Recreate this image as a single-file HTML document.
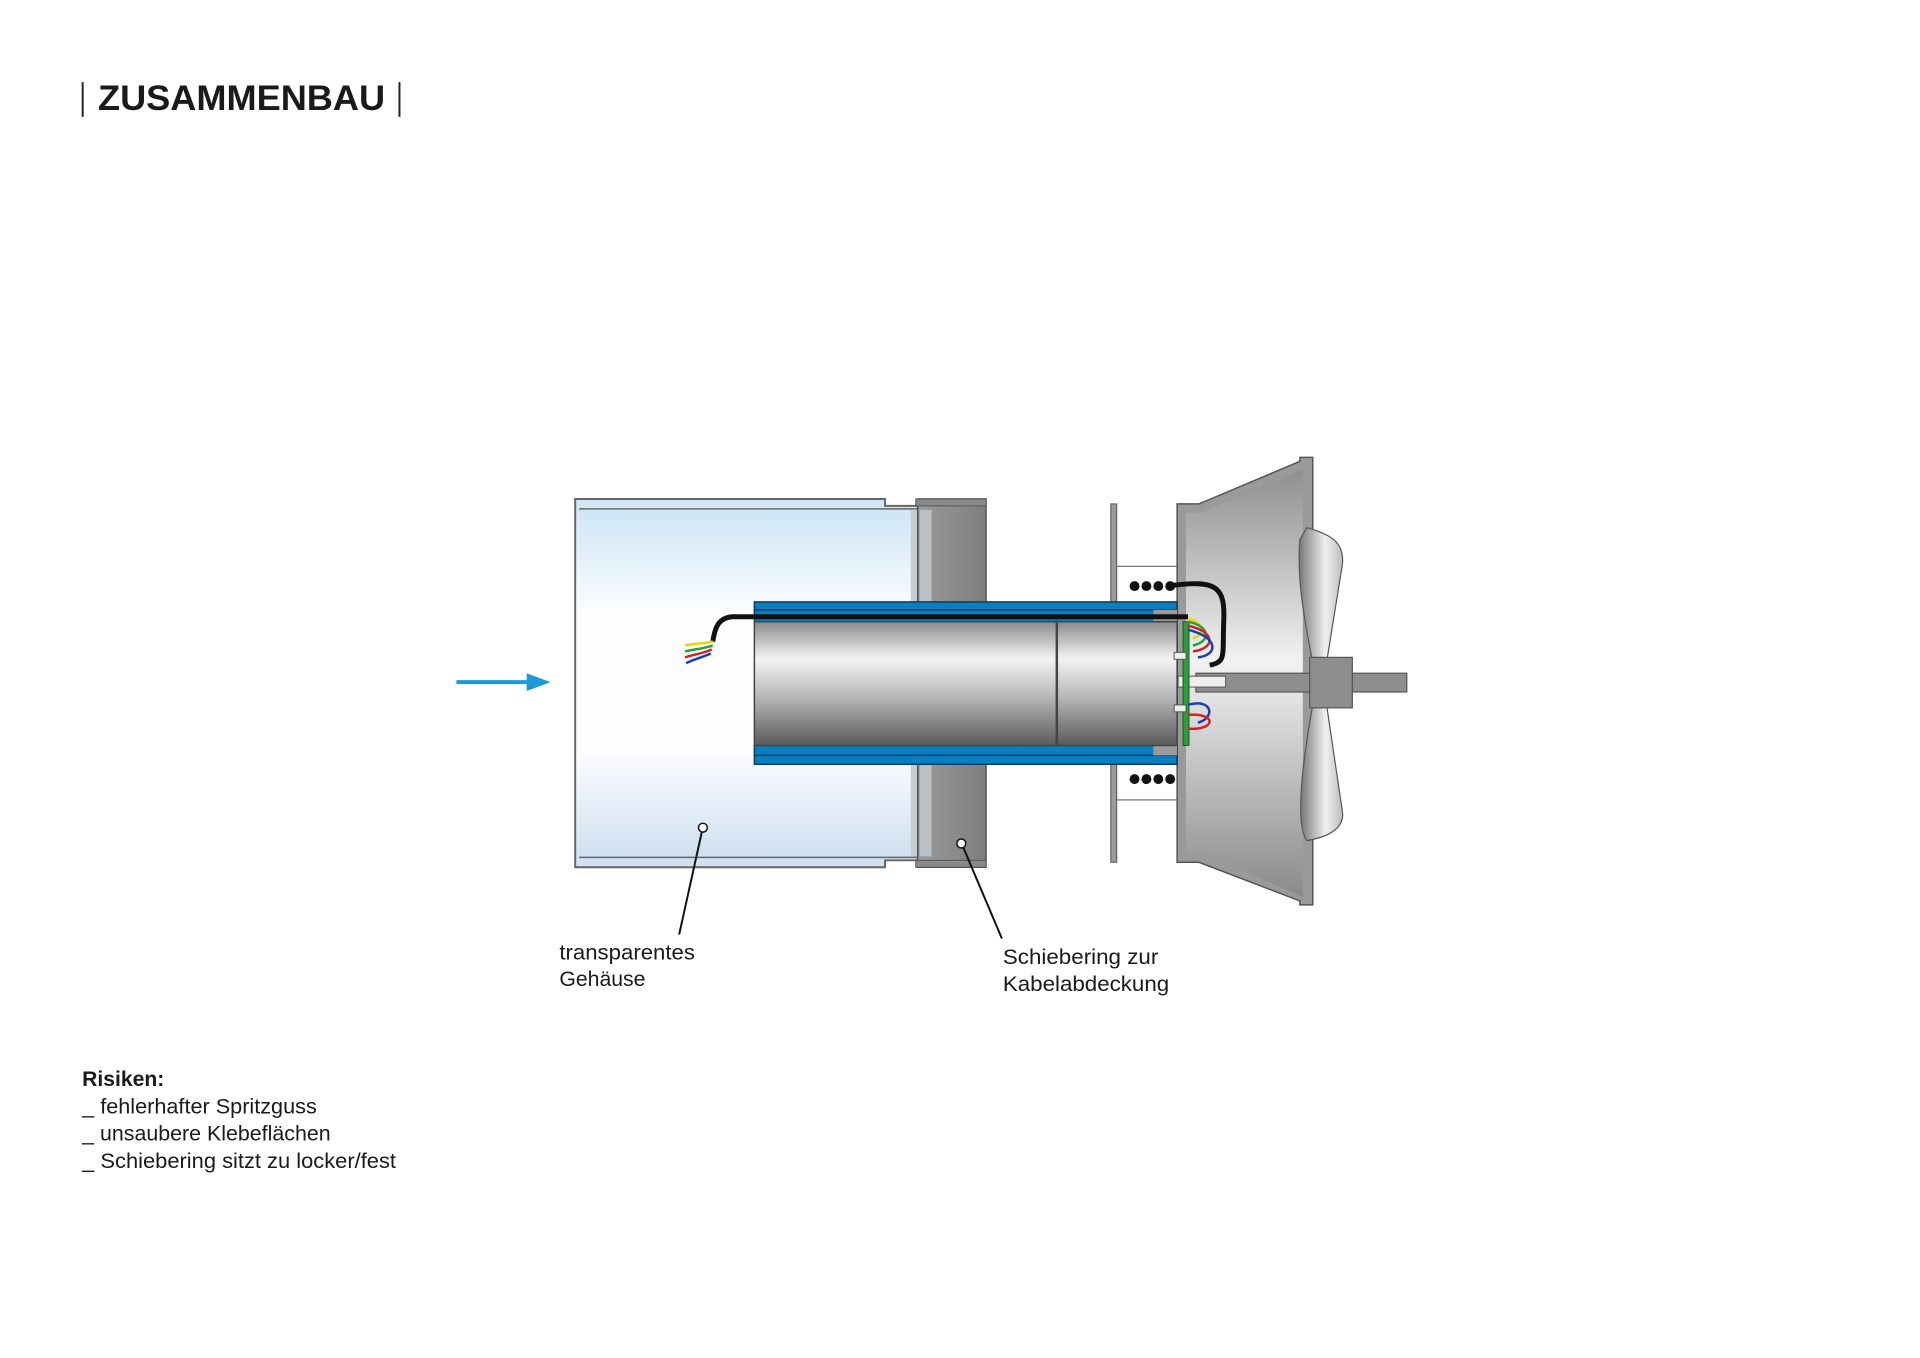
<!DOCTYPE html>
<html><head><meta charset="utf-8"><style>
html,body{margin:0;padding:0;background:#fff}
svg{display:block}
text{font-family:"Liberation Sans",sans-serif;fill:#1a1a1a}
</style></head><body>
<svg width="1920" height="1358" viewBox="0 0 1920 1358" xmlns="http://www.w3.org/2000/svg">
<defs>
<linearGradient id="blue" x1="0" y1="0" x2="0" y2="1">
<stop offset="0" stop-color="#cfe6f6"/><stop offset="0.3" stop-color="#fbfdff"/><stop offset="0.7" stop-color="#fbfdff"/><stop offset="1" stop-color="#cfe0f0"/></linearGradient>
<linearGradient id="metal" x1="0" y1="0" x2="0" y2="1">
<stop offset="0" stop-color="#8a8a8a"/><stop offset="0.3" stop-color="#f4f4f4"/><stop offset="0.6" stop-color="#b8b8b8"/><stop offset="1" stop-color="#5a5a5a"/></linearGradient>
<linearGradient id="ring" x1="0" y1="0" x2="1" y2="0">
<stop offset="0" stop-color="#9a9a9a"/><stop offset="1" stop-color="#7e7e7e"/></linearGradient>
<linearGradient id="fan" x1="0" y1="0" x2="0" y2="1">
<stop offset="0" stop-color="#8f8f8f"/><stop offset="0.45" stop-color="#f2f2f2"/><stop offset="1" stop-color="#8a8a8a"/></linearGradient>
<linearGradient id="blade" x1="0" y1="0" x2="1" y2="0">
<stop offset="0" stop-color="#777"/><stop offset="0.6" stop-color="#f0f0f0"/><stop offset="1" stop-color="#bbb"/></linearGradient>
</defs>
<g transform="scale(0.99)">
<!-- title -->
<line x1="83.5" y1="83" x2="83.5" y2="118" stroke="#222" stroke-width="2"/>
<text x="99" y="111" font-size="36" font-weight="bold" textLength="290" lengthAdjust="spacingAndGlyphs">ZUSAMMENBAU</text>
<line x1="403.5" y1="83" x2="403.5" y2="118" stroke="#222" stroke-width="2"/>

<!-- arrow -->
<line x1="461" y1="689" x2="540" y2="689" stroke="#1a9ad6" stroke-width="4"/>
<polygon points="532,680 556,689 532,698" fill="#1a9ad6"/>

<!-- transparent housing -->
<path d="M581,504 H894 V511 H927 V869 H894 V876 H581 Z" fill="url(#blue)" stroke="#666" stroke-width="2"/>
<rect x="585" y="515" width="342" height="350" fill="url(#blue)" stroke="none"/>
<line x1="585" y1="514" x2="927" y2="514" stroke="#666" stroke-width="1.5"/>
<line x1="585" y1="866" x2="927" y2="866" stroke="#666" stroke-width="1.5"/>
<rect x="920" y="515" width="9" height="350" fill="#c4ccd4"/>

<!-- ring -->
<rect x="927" y="504" width="69" height="372" fill="url(#ring)" stroke="#555" stroke-width="1.5"/>
<rect x="929" y="515" width="12" height="350" fill="#b9c0c6"/>
<rect x="925" y="504" width="71" height="7" fill="#8a8a8a" stroke="#555" stroke-width="1"/>
<rect x="925" y="869" width="71" height="7" fill="#8a8a8a" stroke="#555" stroke-width="1"/>

<!-- wall plate -->
<rect x="1122" y="509" width="6" height="362" fill="#9a9a9a" stroke="#555" stroke-width="1"/>
<rect x="1128" y="572" width="62" height="40" fill="#fff" stroke="#555" stroke-width="1"/>
<rect x="1128" y="768" width="62" height="40" fill="#fff" stroke="#555" stroke-width="1"/>
<g fill="#111">
<circle cx="1146" cy="592" r="5"/><circle cx="1158" cy="592" r="5"/><circle cx="1170" cy="592" r="5"/><circle cx="1182" cy="592" r="5"/>
<circle cx="1146" cy="787" r="5"/><circle cx="1158" cy="787" r="5"/><circle cx="1170" cy="787" r="5"/><circle cx="1182" cy="787" r="5"/>
</g>

<!-- fan housing -->
<path d="M1189,509 H1211 L1313,466 V462 H1326 V914 H1313 V910 L1211,871 H1189 Z" fill="#9a9a9a" stroke="#555" stroke-width="1.5"/>
<path d="M1198,518 H1214 L1316,474 V906 L1214,862 H1198 Z" fill="url(#fan)"/>

<!-- blades -->
<path d="M1320,533 C1345,540 1358,548 1356,570 L1340,669 H1326 C1316,620 1310,580 1313,545 Z" fill="url(#blade)" stroke="#555" stroke-width="1.2"/>
<path d="M1326,712 H1340 L1356,820 C1358,835 1345,845 1320,849 C1310,835 1312,790 1326,712 Z" fill="url(#blade)" stroke="#555" stroke-width="1.2"/>

<!-- shaft & hub -->
<rect x="1208" y="680" width="213" height="19" fill="#8e8e8e" stroke="#555" stroke-width="1.2"/>
<rect x="1323" y="664" width="43" height="51" fill="#8e8e8e" stroke="#555" stroke-width="1.2"/>
<rect x="1190" y="683" width="48" height="11" fill="#eee" stroke="#555" stroke-width="1"/>

<!-- motor tube -->
<rect x="762" y="608" width="427" height="20" fill="#0a7fc0" stroke="#0a3c66" stroke-width="1.5"/>
<rect x="762" y="753" width="427" height="19" fill="#0a7fc0" stroke="#0a3c66" stroke-width="1.5"/>
<line x1="762" y1="616" x2="1189" y2="616" stroke="#0a3c66" stroke-width="1.5"/>
<line x1="762" y1="763" x2="1189" y2="763" stroke="#0a3c66" stroke-width="1.5"/>
<rect x="1165" y="616" width="24" height="12" fill="#9a9a9a"/>
<rect x="1165" y="753" width="24" height="10" fill="#9a9a9a"/>
<rect x="762" y="628" width="305" height="125" fill="url(#metal)" stroke="#444" stroke-width="1.5"/>
<rect x="1068" y="628" width="121" height="125" fill="url(#metal)" stroke="#444" stroke-width="1.5"/>
<rect x="1195" y="628" width="6" height="125" fill="#2aa03a" stroke="#1a5a22" stroke-width="1"/>
<rect x="1186" y="659" width="12" height="7" fill="#eee" stroke="#555" stroke-width="1"/>
<rect x="1186" y="712" width="12" height="7" fill="#eee" stroke="#555" stroke-width="1"/>

<!-- cable -->
<path d="M720,648 C722,635 725,624 740,623 H1200" fill="none" stroke="#111" stroke-width="5"/>
<path d="M1179,592 C1230,585 1238,592 1236,630 C1235,665 1238,668 1222,672" fill="none" stroke="#111" stroke-width="5"/>
<g fill="none" stroke-width="2.5">
<path d="M720,648 C712,650 700,650 692,652" stroke="#e6d800"/>
<path d="M720,652 C712,655 700,656 692,658" stroke="#2aa03a"/>
<path d="M719,656 C711,660 700,661 692,664" stroke="#d42020"/>
<path d="M718,660 C710,664 700,666 693,670" stroke="#1a3fb0"/>
<path d="M1200,625 C1215,628 1218,640 1205,645" stroke="#e6d800"/>
<path d="M1200,628 C1222,632 1224,648 1205,652" stroke="#2aa03a"/>
<path d="M1200,632 C1228,638 1228,655 1205,658" stroke="#d42020"/>
<path d="M1200,636 C1232,644 1230,662 1210,664" stroke="#1a3fb0"/>
<path d="M1200,712 C1225,705 1228,725 1210,730" stroke="#1a3fb0"/>
<path d="M1200,722 C1230,720 1228,738 1200,736" stroke="#d42020"/>
</g>

<!-- leaders -->
<line x1="709" y1="840" x2="686" y2="944" stroke="#111" stroke-width="2"/>
<circle cx="710" cy="836" r="4.5" fill="#fff" stroke="#111" stroke-width="1.5"/>
<line x1="973" y1="856" x2="1012" y2="948" stroke="#111" stroke-width="2"/>
<circle cx="971" cy="852" r="4.5" fill="#fff" stroke="#111" stroke-width="1.5"/>

<!-- labels -->
<g font-size="21">
<text x="565" y="969" textLength="137" lengthAdjust="spacingAndGlyphs">transparentes</text>
<text x="565" y="996" textLength="87" lengthAdjust="spacingAndGlyphs">Gehäuse</text>
<text x="1013" y="974" textLength="157" lengthAdjust="spacingAndGlyphs">Schiebering zur</text>
<text x="1013" y="1001" textLength="168" lengthAdjust="spacingAndGlyphs">Kabelabdeckung</text>
<text x="83" y="1097" font-weight="bold" textLength="83" lengthAdjust="spacingAndGlyphs">Risiken:</text>
<text x="83" y="1125" textLength="237" lengthAdjust="spacingAndGlyphs">_ fehlerhafter Spritzguss</text>
<text x="83" y="1152" textLength="251" lengthAdjust="spacingAndGlyphs">_ unsaubere Klebeflächen</text>
<text x="83" y="1180" textLength="317" lengthAdjust="spacingAndGlyphs">_ Schiebering sitzt zu locker/fest</text>
</g>
</g>
</svg>
</body></html>
